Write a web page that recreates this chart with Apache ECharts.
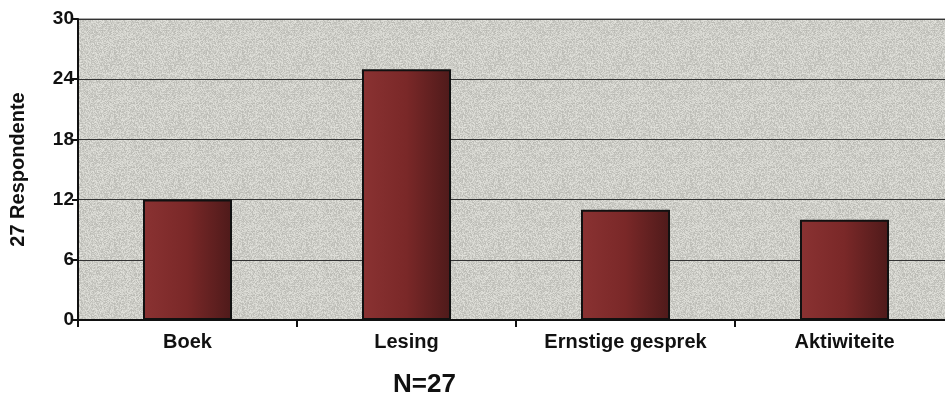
<!DOCTYPE html>
<html>
<head>
<meta charset="utf-8">
<script src="https://cdn.jsdelivr.net/npm/echarts@6/dist/echarts.min.js"></script>
<style>
	* { margin: 0; padding: 0; }
	body { background: #fff; overflow: hidden; }
	/* the plot runs past the right edge of the picture, so the chart is a bit wider than the window */
	#main { width: 960px; height: 415px; }
</style>
</head>
<body>
<div id="main"></div>
<script>
	// categories and values
	var categories = ['Boek', 'Lesing', 'Ernstige gesprek', 'Aktiwiteite'];
	var respondents = [12, 25, 11, 10];
	var yTicks = [0, 6, 12, 18, 24, 30];

	var font = 'Liberation Sans, Arial, sans-serif';

	// grainy grey tile for the plot background (fixed seed, just a texture)
	function grain() {
		var c = document.createElement('canvas');
		c.width = 64; c.height = 64;
		var ctx = c.getContext('2d');
		var img = ctx.createImageData(64, 64);
		var s = 12345;
		for (var i = 0; i < 64 * 64; i++) {
			s = (s * 1103515245 + 12345) & 0x7fffffff;
			var v = 200 + ((s >> 8) % 40) - 14;
			img.data[i * 4] = v;
			img.data[i * 4 + 1] = v;
			img.data[i * 4 + 2] = v - 6;
			img.data[i * 4 + 3] = 255;
		}
		ctx.putImageData(img, 0, 0);
		return c;
	}

	var chart = echarts.init(document.getElementById('main'));
	chart.setOption({
		backgroundColor: '#fff',
		animation: false,
		title: {
			text: 'N=27',
			left: 388,
			top: 367,
			textStyle: { fontFamily: font, fontSize: 26, fontWeight: 'bold', color: '#111' }
		},
		grid: {
			left: 75,
			top: 19,
			right: 6,
			height: 301,
			show: true,
			backgroundColor: { image: grain(), repeat: 'repeat' },
			borderColor: '#555',
			borderWidth: 1
		},
		xAxis: {
			type: 'category',
			data: categories,
			axisLine: { lineStyle: { color: '#111', width: 2 } },
			axisTick: { show: true, length: 7, lineStyle: { color: '#111', width: 2 } },
			axisLabel: { fontFamily: font, fontSize: 20, fontWeight: 'bold', color: '#111', margin: 12 }
		},
		yAxis: {
			type: 'value',
			min: yTicks[0],
			max: yTicks[yTicks.length - 1],
			interval: 6,
			name: '27 Respondente',
			nameLocation: 'middle',
			nameGap: 50,
			nameTextStyle: { fontFamily: font, fontSize: 20, fontWeight: 'bold', color: '#111' },
			axisLine: { show: true, lineStyle: { color: '#111', width: 2 } },
			axisTick: { show: true, length: 6, lineStyle: { color: '#111', width: 2 } },
			axisLabel: { fontFamily: font, fontSize: 19, fontWeight: 'bold', color: '#111', margin: 4 },
			splitLine: { lineStyle: { color: '#333', width: 1 } }
		},
		series: [{
			type: 'bar',
			data: respondents,
			barWidth: 89,
			itemStyle: {
				color: new echarts.graphic.LinearGradient(0, 0, 1, 0, [
					{ offset: 0, color: '#8a3232' },
					{ offset: 0.5, color: '#7a2828' },
					{ offset: 1, color: '#4e1a1a' }
				]),
				borderColor: '#111',
				borderWidth: 2
			}
		}]
	});
</script>
</body>
</html>
